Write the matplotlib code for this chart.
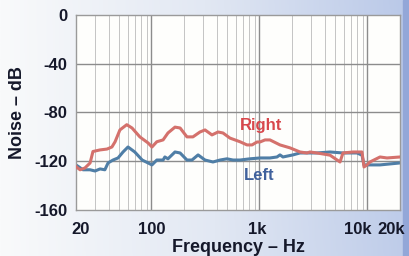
import matplotlib
matplotlib.use('Agg')
import matplotlib.pyplot as plt
from matplotlib.colors import LinearSegmentedColormap
from matplotlib.ticker import FixedLocator, NullFormatter
from matplotlib.transforms import ScaledTranslation
import numpy as np

plt.rcParams['font.family'] = ['Liberation Sans', 'DejaVu Sans']

# values (Hz, dB)
right_freq = [20, 21.8, 24.2, 27, 28.7, 33.4, 38.7, 43, 46, 51, 59, 66, 78, 93, 101,
              112, 128, 142, 165, 184, 213, 242, 281, 313, 363, 413, 459, 533, 660,
              766, 853, 948, 1010, 1125, 1250, 1548, 1914, 2372, 2752, 2935, 3406,
              4496, 5567, 5930, 7345, 8894, 9283, 9892, 10548, 13060, 15160, 20000]
right_db = [-124.4, -127, -125.5, -121.4, -112, -110.7, -110, -108.3, -104, -94.3,
            -90, -92.7, -100, -105, -108.3, -104, -102.5, -96.8, -92, -92.7, -100,
            -100, -96, -94.3, -98.4, -96, -96.8, -101, -104, -106.6, -106.6, -104.2,
            -104.2, -102.5, -102.5, -106.6, -109, -112.4, -113.2, -112.4, -113.2,
            -115, -120.6, -113.2, -112.4, -112.4, -124.7, -123, -120.6, -116.5,
            -117.3, -116.5]

left_freq = [20, 23.2, 27, 30, 33.4, 37, 39.6, 44, 49, 54.5, 60.6, 70, 82, 93, 101,
             112, 128, 133, 142, 165, 184, 213, 237, 270, 313, 371, 431, 500, 569,
             660, 817, 1011, 1250, 1452, 1548, 1650, 2040, 2372, 3406, 4496, 5930,
             8000, 8894, 9283, 13060, 20000]
left_db = [-123, -127, -127, -128, -126.3, -127, -121.4, -119, -117.3, -112.4,
           -108.3, -112.4, -119, -121.4, -123, -119, -119, -116.5, -118, -112.4,
           -113.2, -119, -119, -114.8, -119, -120.6, -119, -118, -119, -119, -118,
           -117.3, -117.3, -116.5, -114.8, -116.5, -114.8, -113.2, -113.2, -112.4,
           -113.2, -113.2, -115, -123, -123, -121.4]

y_ticks = [0, -40, -80, -120, -160]
x_ticks = [20, 100, 1000, 10000, 20000]
x_labels = ['20', '100', '1k', '10k', '20k']
# horizontal nudges (pixels) of the x labels, as printed on the original
x_label_shift = [5, 0, -2, -10, -9]

fig = plt.figure(figsize=(4.1, 2.56), dpi=100)

# scanned page background: white on the left, pale blue to the right
bg = fig.add_axes([0, 0, 1, 1], zorder=-10)
xx, yy = np.meshgrid(np.linspace(0, 1, 200), np.linspace(0, 1, 120))
shade = np.clip(0.7 * xx + 0.25 * (1 - yy) * xx + 0.2 * xx * yy, 0, 1)
bg_cmap = LinearSegmentedColormap.from_list('page', ['#f9fafb', '#e2e8f3', '#b9c8e8'])
bg.imshow(shade, cmap=bg_cmap, aspect='auto', extent=[0, 1, 0, 1], origin='upper')
bg.add_patch(plt.Rectangle((0.982, 0), 0.02, 1, color='#93a7d8'))
bg.set_xlim(0, 1)
bg.set_ylim(0, 1)
bg.axis('off')

ax = fig.add_axes([0.1854, 0.1797, 0.7902, 0.7617])
ax.set_facecolor('#fefefc')
ax.set_xscale('log')
ax.set_xlim(20, 20000)
ax.set_ylim(-160, 0)

minor = [m * d for d in (10, 100, 1000) for m in range(2, 10)] + [20000]
for f in minor:
    ax.axvline(f, color='#c4c4c4', lw=0.7, zorder=1)
for f in (100, 1000, 10000):
    ax.axvline(f, color='#8c8c8c', lw=1.0, zorder=1)
for v in (-40, -80, -120):
    ax.axhline(v, color='#8c8c8c', lw=1.0, zorder=1)

ax.plot(right_freq, right_db, color='#d4716c', lw=2.2, zorder=3,
        solid_joinstyle='round')
ax.plot(left_freq, left_db, color='#4f7ea6', lw=2.2, zorder=2,
        solid_joinstyle='round')

ax.text(1033, -91, 'Right', color='#d8474c', fontsize=12, fontweight='bold',
        ha='center', va='center')
ax.text(990, -132, 'Left', color='#40619c', fontsize=12, fontweight='bold',
        ha='center', va='center')

ax.xaxis.set_major_locator(FixedLocator(x_ticks))
ax.xaxis.set_minor_locator(FixedLocator([]))
ax.xaxis.set_minor_formatter(NullFormatter())
ax.set_xticklabels(x_labels)
ax.set_yticks(y_ticks)
ax.set_yticklabels([str(v) for v in y_ticks])
ax.tick_params(length=0, labelsize=12, colors='#15182a')
ax.tick_params(axis='y', pad=6)
ax.tick_params(axis='x', pad=9)
for lab in ax.get_xticklabels() + ax.get_yticklabels():
    lab.set_fontweight('bold')
for lab, dx in zip(ax.get_xticklabels(), x_label_shift):
    lab.set_transform(lab.get_transform() + ScaledTranslation(dx / 100, 0, fig.dpi_scale_trans))

for s in ax.spines.values():
    s.set_color('#9a9a9a')
    s.set_linewidth(1.0)

ax.set_xlabel('Frequency – Hz', fontsize=13, fontweight='bold', color='#15182a',
              labelpad=1)
ax.set_ylabel('Noise – dB', fontsize=13, fontweight='bold', color='#15182a',
              labelpad=6)

fig.savefig('out.png', dpi=100)
